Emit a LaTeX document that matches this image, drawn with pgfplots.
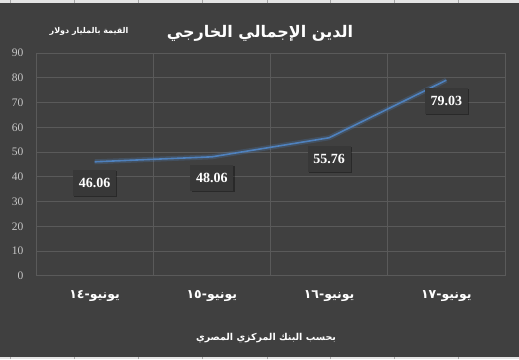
\documentclass[border=0pt]{standalone}
\usepackage{pgfplots}
\pgfplotsset{compat=1.18}
\usepackage{fontspec}
\setmainfont{Liberation Serif}
\newfontfamily\arabicfont[Script=Arabic]{DejaVu Sans}
\usetikzlibrary{shadows}
\TeXXeTstate=1
\definecolor{bg}{HTML}{404040}
\definecolor{gridc}{HTML}{5A5A5A}
\definecolor{tickc}{HTML}{C8C8C8}
\definecolor{linec}{HTML}{4F81BD}
\definecolor{boxc}{HTML}{383838}
\definecolor{stripc}{HTML}{E4E4E4}
\begin{document}
\begin{tikzpicture}[x=1pt,y=1pt]
\fill[bg] (0,0) rectangle (519,359);
% spreadsheet strips
\fill[stripc] (0,356) rectangle (519,359);
\fill[stripc] (0,0) rectangle (519,2);
\foreach \xx in {10,74,138,202,267,330,394,458}{
  \draw[gray!70,line width=0.6pt] (\xx,356) -- (\xx,359);
  \draw[gray!70,line width=0.6pt] (\xx,0) -- (\xx,2);
}
\begin{axis}[
  at={(36pt,83.5pt)}, anchor=south west,
  scale only axis, width=469pt, height=222.8pt,
  xmin=-0.5, xmax=3.5, ymin=0, ymax=90,
  axis line style={draw=none},
  xtick={0,1,2,3},
  xticklabels={{\arabicfont\bfseries\beginR يونيو-١٤\endR},{\arabicfont\bfseries\beginR يونيو-١٥\endR},{\arabicfont\bfseries\beginR يونيو-١٦\endR},{\arabicfont\bfseries\beginR يونيو-١٧\endR}},
  minor xtick={-0.5,0.5,1.5,2.5,3.5},
  ytick={0,10,...,90},
  major tick length=0pt, minor tick length=0pt,
  ymajorgrids, xminorgrids,
  grid style={gridc, line width=0.8pt},
  minor grid style={gridc, line width=0.8pt},
  /pgf/number format/assume math mode=true,
  yticklabel style={font=\fontsize{11.5}{12}\selectfont, text=tickc, xshift=-9pt},
  xticklabel style={font=\fontsize{12.5}{14}\selectfont, text=white, yshift=-11pt},
  clip=false,
]
\addplot[linec, opacity=0.25, line width=5pt, forget plot] coordinates {(0,46.06) (1,48.06) (2,55.76) (3,79.03)};
\addplot[linec, line width=1.6pt,
  nodes near coords, point meta=explicit symbolic,
  nodes near coords style={anchor=center, yshift=-21pt, fill=boxc, draw=none, text=white,
    font=\bfseries\fontsize{14}{15}\selectfont, minimum width=43pt, minimum height=26pt,
    drop shadow={fill=black, draw=none, opacity=0.35, shadow xshift=1.2pt, shadow yshift=-1.2pt}}]
  coordinates {(0,46.06) [46.06] (1,48.06) [48.06] (2,55.76) [55.76] (3,79.03) [79.03]};
\end{axis}
\node[text=white, font=\arabicfont\bfseries\fontsize{16}{20}\selectfont] at (260,326) {\beginR الدين الإجمالي الخارجي\endR};
\node[text=white, font=\arabicfont\bfseries\fontsize{8}{10}\selectfont] at (89,328) {\beginR القيمة بالمليار دولار\endR};
\node[text=white, font=\arabicfont\bfseries\fontsize{9.5}{12}\selectfont] at (266,21) {\beginR بحسب البنك المركزي المصري\endR};
\end{tikzpicture}
\end{document}
